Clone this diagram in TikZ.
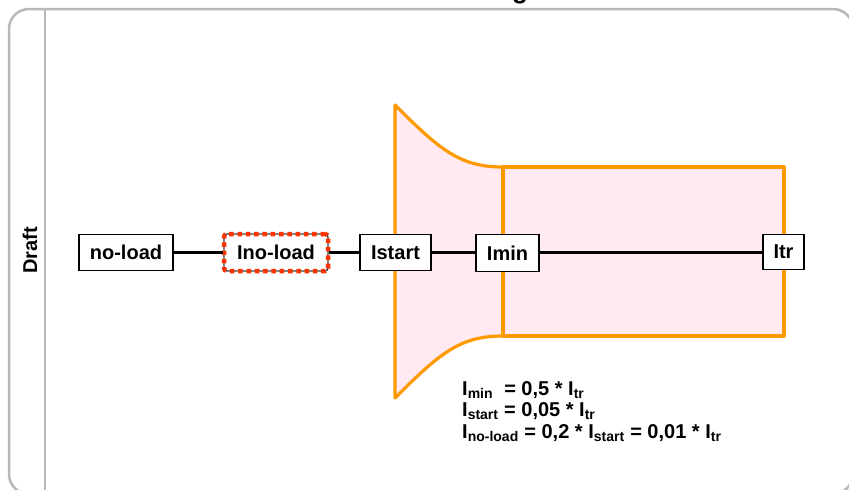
\documentclass[tikz,border=0pt]{standalone}
\usepackage{fontspec}
\setmainfont{Liberation Sans}
\definecolor{frameg}{RGB}{184,184,184}
\definecolor{orng}{RGB}{255,153,0}
\definecolor{pinkfill}{RGB}{255,233,242}
\definecolor{dashred}{RGB}{255,51,0}
\newcommand\bigfnt{\fontsize{20}{22}\selectfont\bfseries}
\tikzset{
  frame/.style={draw=frameg, line width=2.5pt},
  band/.style={draw=orng, line width=3.2pt, fill=pinkfill, line join=round},
  box/.style={draw=black, line width=1.4pt, fill=white, font=\bigfnt, inner sep=0pt, minimum height=36pt},
  conn/.style={draw=black, line width=2.4pt},
  formula/.style={anchor=base west, font=\bigfnt, inner sep=0pt}
}
\begin{document}
\begin{tikzpicture}[x=1pt, y=-1pt]
\clip (0,0) rectangle (849,490);
\fill[white] (0,0) rectangle (849,490);
% title fragment
\node[anchor=base, font=\fontsize{26}{26}\selectfont\bfseries, inner sep=0pt] (title) at (520,-1.5) {g};
% frame
\draw[frame, rounded corners=20pt] (9,9) rectangle (853,494);
\draw[frame] (45,9) -- (45,500);
\node[rotate=90, anchor=base, font=\bigfnt, inner sep=0pt] (draft) at (37,250.5) {Draft};
% orange band
\path[band] (395,105) .. controls (440,150) and (460,167) .. (503,167)
  -- (503,336) .. controls (460,336) and (440,353) .. (395,398) -- cycle;
\path[band] (503,167) rectangle (784,336);
% nodes
\node[box, minimum width=94pt] (noload) at (126,252.5) {no-load};
\node[box, minimum width=104pt, minimum height=37pt, rounded corners=3pt, draw=black!75,
  postaction={draw=dashred, line width=4.5pt, dash pattern=on 4.5pt off 3.8pt}] (inoload) at (276,252.5) {Ino-load};
\node[box, minimum width=71pt] (istart) at (395.5,252.5) {Istart};
\node[box, minimum width=63pt, minimum height=37pt] (imin) at (507.5,253) {Imin};
\node[box, minimum width=41pt, minimum height=35pt] (itr) at (783.5,252) {Itr};
% connectors
\draw[conn] (noload.east) -- (inoload.west);
\draw[conn] (inoload.east) -- (istart.west);
\draw[conn] (istart.east) -- (imin.west |- istart.east);
\draw[conn] (imin.east |- istart.east) -- (itr.west |- istart.east);
% formulas
\node[formula] (f1) at (462,395) {I\textsubscript{min}\ \ = 0,5 * I\textsubscript{tr}};
\node[formula] (f2) at (462,416.5) {I\textsubscript{start} = 0,05 * I\textsubscript{tr}};
\node[formula] (f3) at (462,438) {I\textsubscript{no-load} = 0,2 * I\textsubscript{start} = 0,01 * I\textsubscript{tr}};
\end{tikzpicture}
\end{document}
